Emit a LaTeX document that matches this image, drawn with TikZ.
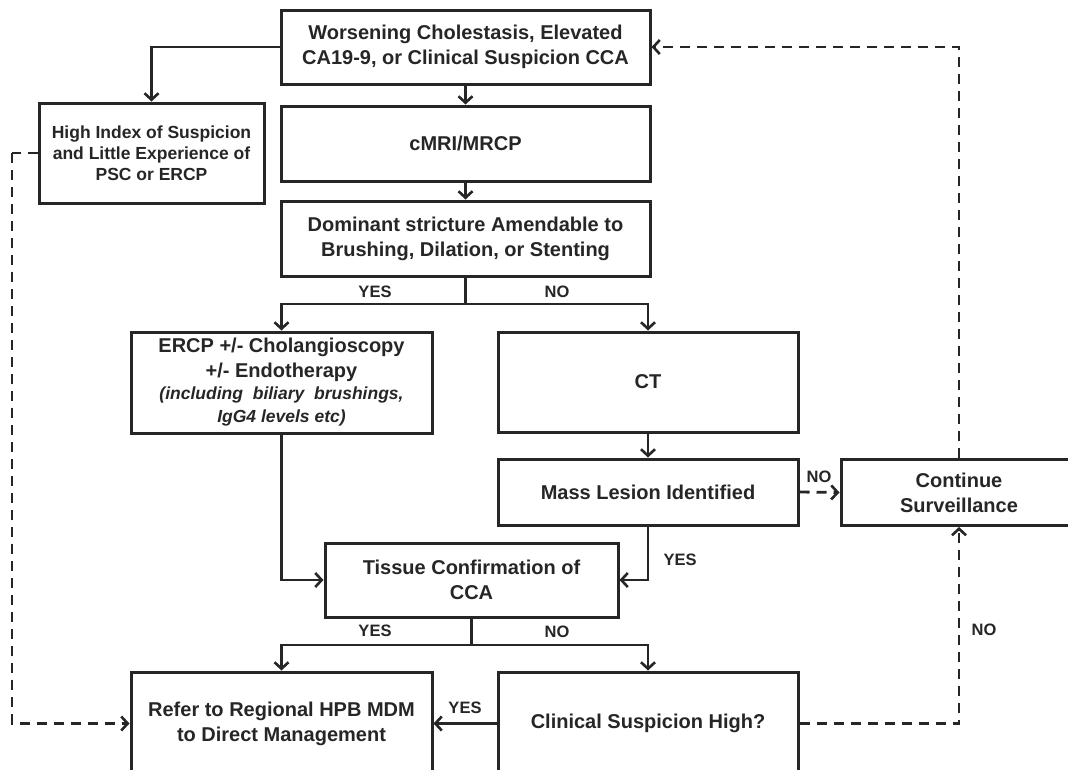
\documentclass[tikz,border=0pt]{standalone}
\usepackage{fontspec}
\setmainfont{Liberation Sans}
\usetikzlibrary{arrows.meta}
\definecolor{ink}{HTML}{262626}
\tikzset{
  box/.style={draw=ink, line width=3pt, text=ink, align=center, inner sep=2pt,
    font=\bfseries\fontsize{20}{25}\selectfont},
  conn/.style={draw=ink, line width=2.8pt, -{Straight Barb[length=6.5pt,width=14pt,line width=2.6pt]}},
  plain/.style={draw=ink, line width=2.8pt},
  dconn/.style={conn, dash pattern=on 10pt off 7pt},
  dplain/.style={plain, dash pattern=on 10pt off 7pt},
  lbl/.style={text=ink, font=\bfseries\fontsize{16.5}{20}\selectfont, inner sep=0pt}
}
\begin{document}
\begin{tikzpicture}[x=1pt,y=-1pt]
\useasboundingbox (0,0) rectangle (1068,769);
\fill[white] (0,0) rectangle (1068,769);
\clip (0,0) rectangle (1068,769);

\node[box, minimum width=369pt, minimum height=74pt] (top) at (465.5,47)
  {Worsening Cholestasis, Elevated\\CA19-9, or Clinical Suspicion CCA};
\node[box, minimum width=225pt, minimum height=100pt,
  font=\bfseries\fontsize{17.5}{21}\selectfont] (high) at (151.5,153)
  {High Index of Suspicion\\and Little Experience of\\PSC or ERCP};
\node[box, minimum width=369pt, minimum height=75pt] (mri) at (465.5,143.5) {cMRI/MRCP};
\node[box, minimum width=369pt, minimum height=75pt] (dom) at (465.5,238.5)
  {Dominant stricture Amendable to\\Brushing, Dilation, or Stenting};
\node[box, minimum width=301pt, minimum height=101pt] (ercp) at (281.5,382.5)
  {ERCP +/- Cholangioscopy\\+/- Endotherapy\\[-3pt]
   {\itshape\fontsize{17.5}{21}\selectfont (including\ \ biliary\ \ brushings,}\\[-2pt]
   {\itshape\fontsize{17.5}{21}\selectfont IgG4 levels etc)}};
\node[box, minimum width=300pt, minimum height=100pt] (ct) at (648,382) {CT};
\node[box, minimum width=300pt, minimum height=66pt] (mass) at (648,492) {Mass Lesion Identified};
\node[box, minimum width=236pt, minimum height=66pt] (cont) at (959,492.5) {Continue\\Surveillance};
\node[box, minimum width=293pt, minimum height=74pt] (tissue) at (471.5,580)
  {Tissue Confirmation of\\CCA};
\node[box, minimum width=301pt, minimum height=103pt] (refer) at (281.5,723.5)
  {Refer to Regional HPB MDM\\to Direct Management};
\node[box, minimum width=300pt, minimum height=103pt] (clin) at (648,723.5)
  {Clinical Suspicion High?};

\coordinate (s1) at (465.5,304);
\coordinate (s2) at (471.5,645);
\coordinate (lft) at (12,153);

\path[conn] (top.west) -| (high.north);
\path[conn] (top.south) -- (mri.north);
\path[conn] (mri.south) -- (dom.north);
\path[plain] (dom.south) -- (s1);
\path[conn] (s1) -| (ercp.north);
\path[conn] (s1) -| (ct.north);
\path[conn] (ct.south) -- (mass.north);
\path[dconn] (mass.east) -- (cont.west);
\path[conn] (mass.south) |- (tissue.east);
\path[conn] (ercp.south) |- (tissue.west);
\path[plain] (tissue.south) -- (s2);
\path[conn] (s2) -| (refer.north);
\path[conn] (s2) -| (clin.north);
\path[conn] (clin.west) -- (refer.east);
\path[dconn] (clin.east) -| (cont.south);
\path[dconn] (cont.north) |- (top.east);
\path[dplain] (high.west) -- (lft);
\path[dconn] (lft) |- (refer.west);

\node[lbl] (y1) at (375,292) {YES};
\node[lbl] (n1) at (557,292) {NO};
\node[lbl] (n2) at (819,477) {NO};
\node[lbl] (y2) at (680,560) {YES};
\node[lbl] (y3) at (375,631) {YES};
\node[lbl] (n3) at (557,632) {NO};
\node[lbl] (y4) at (465,708) {YES};
\node[lbl] (n4) at (984,630) {NO};
\end{tikzpicture}
\end{document}
